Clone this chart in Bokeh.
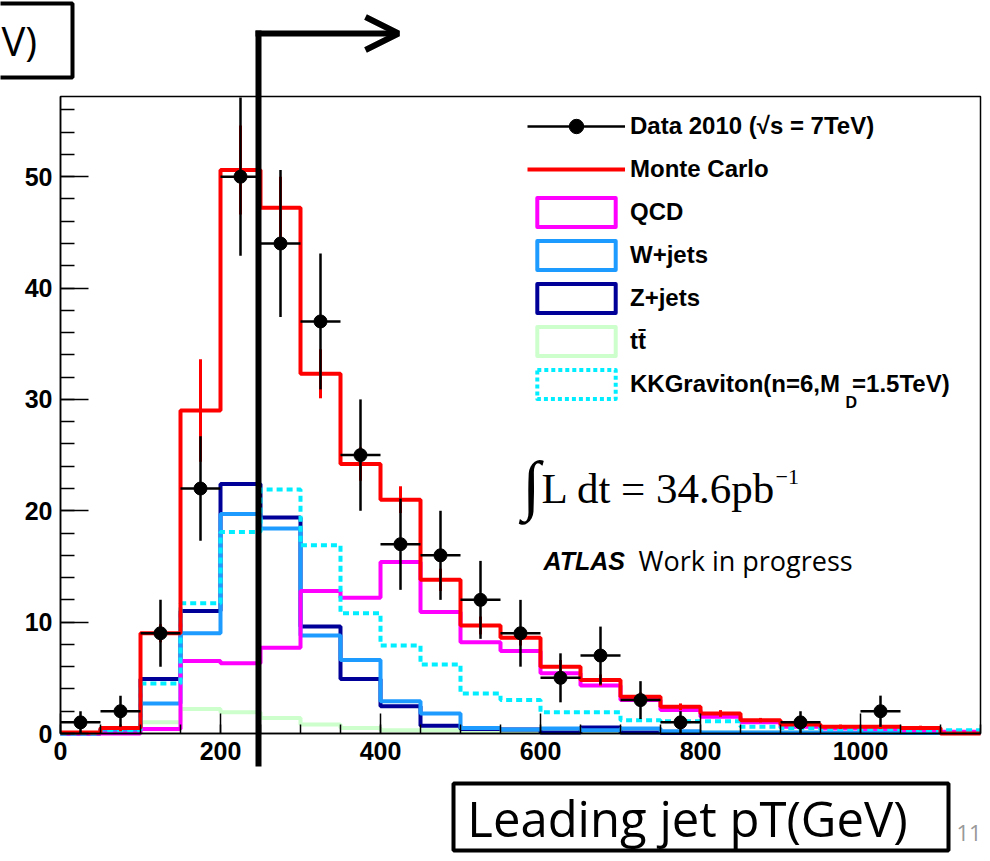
import numpy as np
from bokeh.plotting import figure
from bokeh.models import (Range1d, FixedTicker, Legend, LegendItem, Label, Arrow,
                          OpenHead, BoxAnnotation)
from bokeh.embed import file_html
from bokeh.resources import INLINE

# ---------------- data ----------------
bin_lo = [0, 50, 100, 150, 200, 250, 300, 350, 400, 450, 500, 550,
          600, 650, 700, 750, 800, 850, 900, 950, 1000, 1050, 1100]
bin_width = 50
x_max = 1150

mc = [0.1, 0.5, 9.0, 29.0, 50.6, 47.2, 32.3, 24.2, 21.0, 13.8, 9.7, 8.6,
      6.0, 4.8, 3.3, 2.4, 1.8, 1.2, 0.8, 0.6, 0.6, 0.5, 0.0]
mc_err = [0.0, 0.3, 0.8, 4.6, 4.0, 2.8, 2.2, 1.5, 1.2, 1.0, 0.8, 0.7,
          0.6, 0.5, 0.4, 0.3, 0.3, 0.2, 0.2, 0.2, 0.2, 0.2, 0.0]
qcd = [0.0, 0.0, 0.4, 6.5, 6.3, 7.7, 12.8, 12.2, 15.4, 10.9, 8.2, 7.4,
       5.4, 4.3, 3.0, 2.1, 1.5, 1.0, 0.6, 0.45, 0.4, 0.3, 0.15]
wjets = [0.0, 0.3, 2.7, 9.0, 19.7, 18.4, 8.8, 6.6, 2.9, 1.8, 0.5, 0.35,
         0.45, 0.3, 0.45, 0.2, 0.1, 0.1, 0.1, 0.05, 0.05, 0.05, 0.05]
zjets = [0.0, 0.4, 4.9, 11.0, 22.4, 19.4, 9.6, 4.9, 2.45, 0.7, 0.4, 0.35,
         0.1, 0.55, 0.1, 0.05, 0.05, 0.05, 0.05, 0.05, 0.05, 0.05, 0.05]
ttbar = [0.0, 0.15, 1.0, 2.2, 1.9, 1.4, 0.8, 0.5, 0.3, 0.3, 0.2, 0.2,
         0.15, 0.15, 0.1, 0.1, 0.1, 0.1, 0.1, 0.1, 0.1, 0.1, 0.1]
kkgrav = [0.0, 0.3, 4.5, 11.7, 18.1, 21.9, 16.9, 10.8, 7.9, 6.2, 3.6, 3.0,
          1.9, 1.9, 1.2, 1.1, 1.1, 0.6, 0.5, 0.4, 0.4, 0.3, 0.3]

data_x = [25, 75, 125, 175, 225, 275, 325, 375, 425, 475, 525, 575, 625,
          675, 725, 775, 925, 1025]
data_y = [1, 2, 9, 22, 50, 44, 37, 25, 17, 16, 12, 9, 5, 7, 3, 1, 1, 2]
data_err = [1.0, 1.4, 3.0, 4.7, 7.1, 6.6, 6.1, 5.0, 4.1, 4.0, 3.5, 3.0,
            2.2, 2.6, 1.7, 1.0, 1.0, 1.4]

x_ticks = [0, 200, 400, 600, 800, 1000]
x_minor = [0, 50, 100, 150, 200, 250, 300, 350, 400, 450, 500, 550, 600,
           650, 700, 750, 800, 850, 900, 950, 1000, 1050, 1100, 1150]
y_ticks = [0, 10, 20, 30, 40, 50]
y_minor = [0, 2, 4, 6, 8, 10, 12, 14, 16, 18, 20, 22, 24, 26, 28, 30, 32,
           34, 36, 38, 40, 42, 44, 46, 48, 50, 52, 54, 56]

Y_MAX = 57.2

# ---------------- layout ----------------
W, H = 982, 853
FL, FR, FT, FB = 60, 980, 96, 733   # histogram box edges in picture pixels


def dx(px):
    return (px - FL) * x_max / (FR - FL)


def dy(py):
    return (FB - py) * Y_MAX / (FB - FT)


p = figure(width=W, height=H, x_range=Range1d(dx(0), dx(W)), y_range=Range1d(dy(H), dy(0)),
           output_backend="svg", toolbar_location=None,
           min_border_left=0, min_border_right=0, min_border_top=0, min_border_bottom=0)
p.grid.visible = False
p.outline_line_color = None
p.background_fill_color = "white"
p.border_fill_color = "white"

for ax in (p.xaxis[0], p.yaxis[0]):
    ax.fixed_location = 0
    ax.axis_line_width = 1.5
    ax.axis_line_color = "black"
    ax.major_tick_line_width = 1.5
    ax.minor_tick_line_width = 1.5
    ax.major_tick_line_color = "black"
    ax.minor_tick_line_color = "black"
    ax.major_tick_out = 0
    ax.minor_tick_out = 0
    ax.major_label_text_font = "Liberation Sans"
    ax.major_label_text_font_style = "bold"
    ax.major_label_text_font_size = "25px"
    ax.major_label_text_color = "black"
    ax.major_label_standoff = 8

p.xaxis.bounds = (0, x_max)
p.yaxis.bounds = (0, Y_MAX)
p.xaxis.ticker = FixedTicker(ticks=x_ticks, minor_ticks=x_minor)
p.yaxis.ticker = FixedTicker(ticks=y_ticks, minor_ticks=y_minor)
p.xaxis.major_tick_in = 20
p.xaxis.minor_tick_in = 9
p.yaxis.major_tick_in = 28
p.yaxis.minor_tick_in = 14

# histogram box outline
p.add_layout(BoxAnnotation(left=0, right=x_max, bottom=0, top=Y_MAX, fill_alpha=0,
                           line_color="black", line_alpha=1.0, line_width=1.5))


def step_xy(vals):
    return bin_lo + [x_max], list(vals) + [vals[-1]]


styles = [
    (ttbar, "#ccffcc", "solid"),
    (zjets, "#000099", "solid"),
    (wjets, "#1e9bff", "solid"),
    (qcd, "#ff00ff", "solid"),
    (kkgrav, "#00eeff", "6 4"),
]
for vals, col, dash in styles:
    xs, ys = step_xy(vals)
    p.step(xs, ys, mode="after", line_color=col, line_width=4, line_dash=dash)

# Monte Carlo total with its error bars
mc_x, mc_y = step_xy(mc)
mc_r = p.step(mc_x, mc_y, mode="after", line_color="#ff0000", line_width=4)
centers = np.array(bin_lo) + bin_width / 2
mc_a = np.array(mc)
mc_e = np.array(mc_err)
p.segment(centers, mc_a - mc_e, centers, mc_a + mc_e, line_color="#ff0000", line_width=3)

# data points
dxa = np.array(data_x, dtype=float)
dya = np.array(data_y, dtype=float)
dea = np.array(data_err, dtype=float)
p.segment(dxa, dya - dea, dxa, dya + dea, line_color="black", line_width=2.5)
h_r = p.segment(dxa - bin_width / 2, dya, dxa + bin_width / 2, dya,
                line_color="black", line_width=2.5)
pt_r = p.scatter(dxa, dya, size=13, marker="circle", fill_color="black", line_color="black")


# legend box renderers (no drawable data, only for the legend swatch)
def box_r(col, dash="solid"):
    nan = np.array([np.nan])
    return p.quad(left=nan, right=nan, top=nan, bottom=nan, fill_color=None,
                  line_color=col, line_width=4, line_dash=dash, line_join="round")


items = [
    LegendItem(label="Data 2010 (\u221as = 7TeV)", renderers=[h_r, pt_r]),
    LegendItem(label="Monte Carlo", renderers=[mc_r]),
    LegendItem(label="QCD", renderers=[box_r("#ff00ff")]),
    LegendItem(label="W+jets", renderers=[box_r("#1e9bff")]),
    LegendItem(label="Z+jets", renderers=[box_r("#000099")]),
    LegendItem(label="tt\u0304", renderers=[box_r("#ccffcc")]),
    LegendItem(label="KKGraviton(n=6,M\u2002=1.5TeV)", renderers=[box_r("#00eeff", "4 3")]),
]
legend = Legend(items=items, location=(527, H - 402), orientation="vertical",
                glyph_width=98, glyph_height=36, label_height=36, spacing=7,
                label_standoff=5, padding=0, margin=0,
                border_line_color=None, background_fill_alpha=0,
                label_text_font="Liberation Sans", label_text_font_style="bold",
                label_text_font_size="24px", label_text_color="black")
p.add_layout(legend)

p.add_layout(Label(x=dx(845), y=dy(402), text="D", text_font="Liberation Sans",
                   text_font_style="bold", text_font_size="16px", text_baseline="middle",
                   text_color="black"))

# annotations inside the histogram box
p.add_layout(Label(x=dx(522), y=dy(484), text="\u222b", text_font="Liberation Serif",
                   text_font_size="66px", text_baseline="middle", text_color="black"))
p.add_layout(Label(x=dx(541), y=dy(488), text="L dt = 34.6pb", text_font="Liberation Serif",
                   text_font_size="43px", text_baseline="alphabetic", text_color="black"))
p.add_layout(Label(x=dx(775), y=dy(476), text="\u22121", text_font="Liberation Serif",
                   text_font_size="22px", text_baseline="alphabetic", text_color="black"))
p.add_layout(Label(x=dx(543), y=dy(560), text="ATLAS", text_font="Liberation Sans",
                   text_font_style="bold italic", text_font_size="25px",
                   text_baseline="alphabetic", text_color="black"))
p.add_layout(Label(x=dx(638), y=dy(560), text="Work in progress", text_font="Open Sans",
                   text_font_size="27px", text_baseline="alphabetic", text_color="black"))

# slide decorations
p.add_layout(BoxAnnotation(left=dx(-20), right=dx(72), top=dy(3), bottom=dy(77),
                           fill_alpha=0, line_color="black", line_alpha=1.0, line_width=4))
p.add_layout(Label(x=dx(1), y=dy(40), text="V)", text_font="Open Sans",
                   text_font_size="40px", text_baseline="middle", text_color="black"))
p.add_layout(Arrow(end=None, x_start=dx(258), y_start=dy(766), x_end=dx(258), y_end=dy(30),
                   line_color="black", line_width=6))
p.add_layout(Arrow(end=OpenHead(size=33, line_width=6, line_color="black"),
                   x_start=dx(255), y_start=dy(33), x_end=dx(398), y_end=dy(33),
                   line_color="black", line_width=6))
p.add_layout(BoxAnnotation(left=dx(453), right=dx(948), top=dy(783), bottom=dy(850),
                           fill_alpha=0, line_color="black", line_alpha=1.0, line_width=4))
p.add_layout(Label(x=dx(687), y=dy(817), text="Leading jet pT(GeV)", text_font="Open Sans",
                   text_font_size="49px", text_align="center", text_baseline="middle",
                   text_color="black"))
p.add_layout(Label(x=dx(956), y=dy(832), text="11", text_font="Open Sans",
                   text_font_size="22px", text_color="#999999", text_baseline="middle"))

open("out.html", "w").write(file_html(p, INLINE))
